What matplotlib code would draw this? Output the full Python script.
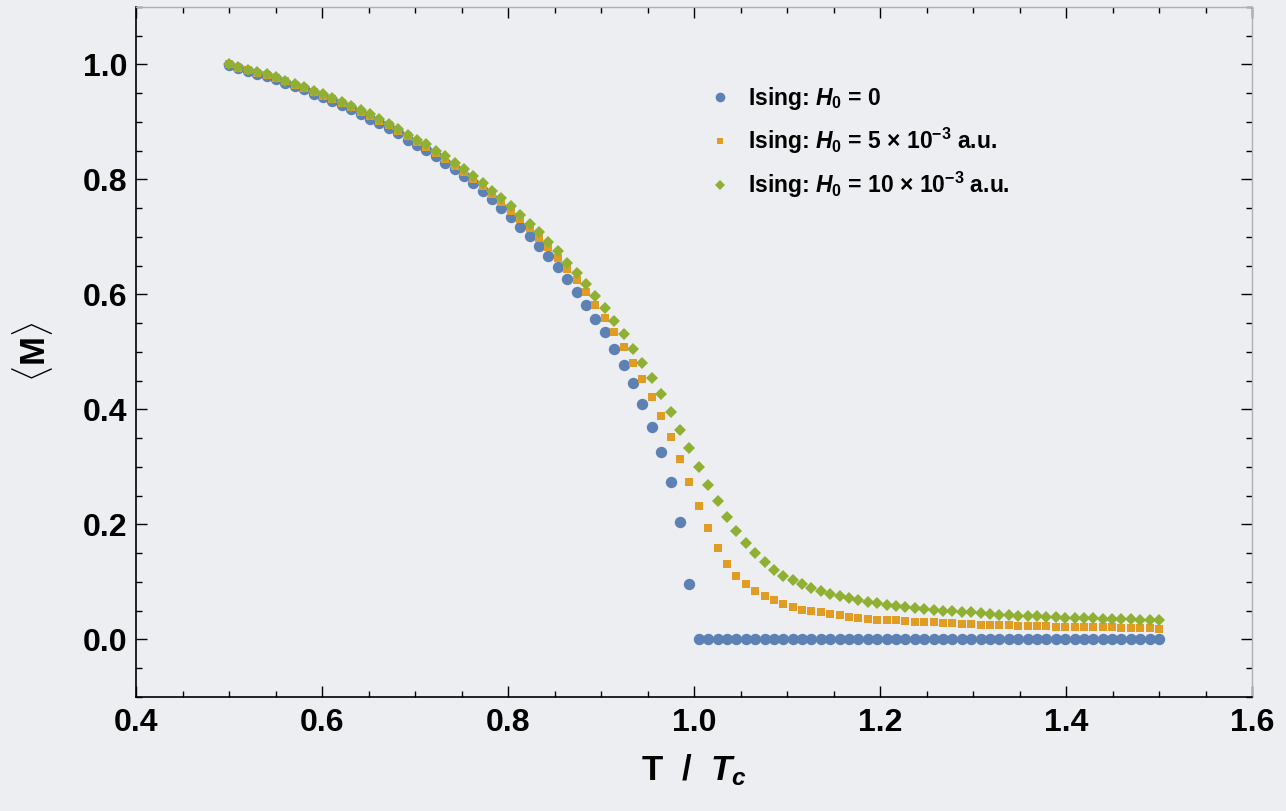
import matplotlib.pyplot as plt
import numpy as np

plt.rcParams['font.family'] = ['Liberation Sans', 'DejaVu Sans']
plt.rcParams['font.weight'] = 'bold'
plt.rcParams['axes.labelweight'] = 'bold'
plt.rcParams['mathtext.fontset'] = 'custom'
plt.rcParams['mathtext.rm'] = 'Liberation Sans:bold'
plt.rcParams['mathtext.it'] = 'Liberation Sans:italic:bold'
plt.rcParams['mathtext.bf'] = 'Liberation Sans:bold'

# reduced temperature grid (100 samples from 0.5 to 1.5)
t_ratio = np.linspace(0.5, 1.5, 100)

# <M> for H0 = 0
m_h0 = [0.999, 0.993, 0.989, 0.984, 0.980, 0.975, 0.968, 0.962, 0.957, 0.949,
        0.943, 0.937, 0.929, 0.922, 0.914, 0.906, 0.898, 0.889, 0.880, 0.869,
        0.860, 0.851, 0.841, 0.829, 0.818, 0.806, 0.793, 0.780, 0.766, 0.751,
        0.735, 0.718, 0.702, 0.685, 0.667, 0.647, 0.627, 0.605, 0.582, 0.558,
        0.534, 0.506, 0.477, 0.446, 0.409, 0.370, 0.326, 0.273, 0.205, 0.097] + [0.0] * 50

# <M> for H0 = 5e-3 a.u.
m_h5 = [1.000, 0.994, 0.990, 0.986, 0.982, 0.977, 0.971, 0.965, 0.959, 0.952,
        0.946, 0.940, 0.933, 0.926, 0.918, 0.910, 0.902, 0.894, 0.885, 0.875,
        0.866, 0.857, 0.846, 0.836, 0.824, 0.813, 0.801, 0.788, 0.774, 0.761,
        0.746, 0.731, 0.715, 0.699, 0.682, 0.663, 0.644, 0.625, 0.604, 0.582,
        0.559, 0.535, 0.509, 0.481, 0.453, 0.422, 0.388, 0.352, 0.313, 0.273,
        0.232, 0.193, 0.159, 0.131, 0.110, 0.096, 0.084, 0.075, 0.068, 0.061,
        0.056, 0.052, 0.049, 0.047, 0.044, 0.042, 0.039, 0.038, 0.036, 0.034,
        0.034, 0.033, 0.032, 0.031, 0.030, 0.030, 0.029, 0.028, 0.027, 0.027,
        0.026, 0.026, 0.025, 0.025, 0.024, 0.024, 0.023, 0.023, 0.022, 0.022,
        0.022, 0.022, 0.021, 0.021, 0.021, 0.020, 0.020, 0.020, 0.020, 0.019]

# <M> for H0 = 10e-3 a.u.
m_h10 = [1.000, 0.995, 0.991, 0.987, 0.983, 0.978, 0.972, 0.966, 0.961, 0.954,
         0.948, 0.942, 0.935, 0.928, 0.921, 0.913, 0.905, 0.897, 0.888, 0.878,
         0.869, 0.861, 0.850, 0.840, 0.829, 0.818, 0.806, 0.794, 0.780, 0.767,
         0.753, 0.738, 0.723, 0.708, 0.692, 0.675, 0.655, 0.638, 0.619, 0.598,
         0.577, 0.554, 0.532, 0.506, 0.481, 0.454, 0.427, 0.396, 0.365, 0.333,
         0.300, 0.269, 0.240, 0.213, 0.188, 0.167, 0.150, 0.134, 0.121, 0.111,
         0.103, 0.096, 0.089, 0.084, 0.079, 0.075, 0.072, 0.069, 0.066, 0.063,
         0.060, 0.058, 0.056, 0.054, 0.053, 0.051, 0.050, 0.049, 0.047, 0.047,
         0.046, 0.045, 0.043, 0.042, 0.041, 0.040, 0.040, 0.039, 0.039, 0.038,
         0.038, 0.037, 0.037, 0.036, 0.036, 0.035, 0.035, 0.034, 0.034, 0.033]

labels = [r'Ising: $H_0$ = 0',
          r'Ising: $H_0$ = 5 × 10$^{-3}$ a.u.',
          r'Ising: $H_0$ = 10 × 10$^{-3}$ a.u.']

bg = '#eceef1'
fig = plt.figure(figsize=(12.86, 8.11), dpi=100, facecolor=bg)
ax = fig.add_axes([0.1058, 0.1406, 0.8678, 0.8508], facecolor=bg)

ax.plot(t_ratio, m_h0, 'o', color='#5e81b5', markersize=8.2, markeredgewidth=0, label=labels[0])
ax.plot(t_ratio, m_h5, 's', color='#e19c24', markersize=5.8, markeredgewidth=0, label=labels[1])
ax.plot(t_ratio, m_h10, 'D', color='#8fb032', markersize=6.2, markeredgewidth=0, label=labels[2])

ax.set_xlim(0.4, 1.6)
ax.set_ylim(-0.1, 1.1)
ax.set_xticks(np.arange(0.4, 1.61, 0.2))
ax.set_yticks(np.arange(0.0, 1.01, 0.2))
ax.set_xticks(np.arange(0.4, 1.61, 0.05), minor=True)
ax.set_yticks(np.arange(-0.1, 1.11, 0.05), minor=True)
ax.xaxis.set_major_formatter(plt.FormatStrFormatter('%.1f'))
ax.yaxis.set_major_formatter(plt.FormatStrFormatter('%.1f'))

ax.tick_params(which='both', direction='in', top=True, right=True, labelsize=23, width=1.0)
ax.tick_params(which='major', length=8)
ax.tick_params(which='minor', length=4.5)
ax.tick_params(axis='x', pad=8)
ax.tick_params(axis='y', pad=6)

for side in ['left', 'bottom']:
    ax.spines[side].set_linewidth(1.2)
    ax.spines[side].set_color('black')
for side in ['top', 'right']:
    ax.spines[side].set_linewidth(1.0)
    ax.spines[side].set_color('#b0b0b0')
ax.tick_params(which='both', top=True, right=True, labeltop=False, labelright=False)

ax.set_xlabel(r'T  /  $T_c$', fontsize=25, fontweight='bold', labelpad=10)
ax.set_ylabel(r'$\langle$M$\rangle$', fontsize=25, fontweight='bold', labelpad=20)

ax.legend(loc='upper left', bbox_to_anchor=(0.4925, 0.917), frameon=False,
          fontsize=16.5, markerscale=0.85, handlelength=1.2, handletextpad=0.6,
          labelspacing=0.6)

plt.savefig('out.png', dpi=100, facecolor=bg)
